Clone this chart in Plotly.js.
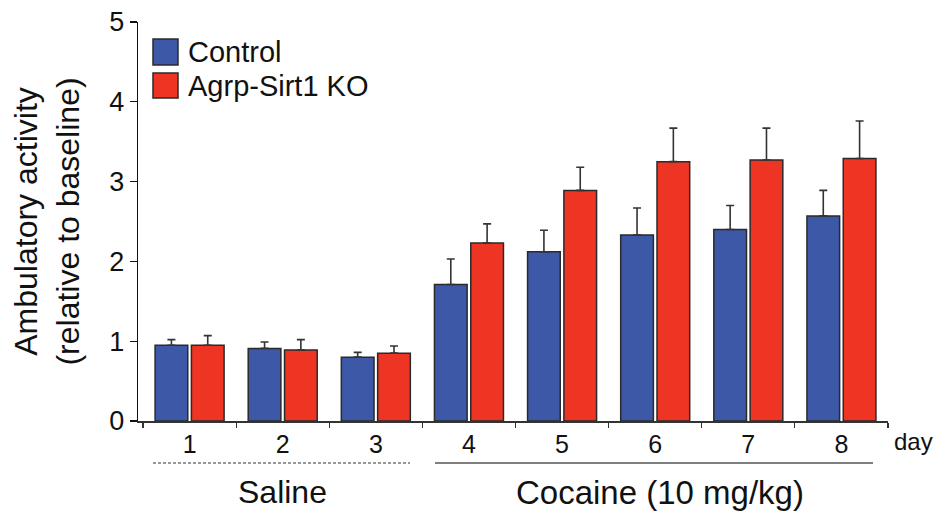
<!DOCTYPE html>
<html>
<head>
<meta charset="utf-8">
<script src="https://cdn.plot.ly/plotly-3.0.1.min.js"></script>
<style>html,body{margin:0;padding:0;background:#fff}#chart{width:943px;height:512px}</style>
</head>
<body>
<div id="chart"></div>
<script>
const days = ["1", "2", "3", "4", "5", "6", "7", "8"];
const controlMean = [0.95, 0.91, 0.80, 1.71, 2.12, 2.33, 2.40, 2.57];
const controlErr  = [0.07, 0.08, 0.06, 0.32, 0.27, 0.34, 0.30, 0.32];
const koMean = [0.95, 0.89, 0.85, 2.23, 2.89, 3.25, 3.27, 3.29];
const koErr  = [0.12, 0.13, 0.09, 0.24, 0.29, 0.42, 0.40, 0.47];
const seriesNames = ["Control", "Agrp-Sirt1 KO"];
const seriesColors = ["#3D58A7", "#EE3524"];
const yTicks = [0, 1, 2, 3, 4, 5];

const FONT = "Liberation Sans, Arial, Helvetica, sans-serif";
const errStyle = {type: "data", symmetric: false, arrayminus: days.map(() => 0), color: "#333", thickness: 1.6, width: 4};

const traces = [
  {type: "bar", x: days, y: controlMean, name: seriesNames[0],
   marker: {color: seriesColors[0], line: {color: "#2a2a2a", width: 1.5}},
   error_y: Object.assign({array: controlErr}, errStyle), showlegend: false},
  {type: "bar", x: days, y: koMean, name: seriesNames[1],
   marker: {color: seriesColors[1], line: {color: "#2a2a2a", width: 1.5}},
   error_y: Object.assign({array: koErr}, errStyle), showlegend: false}
];

const W = 750, H = 399, L = 138, B0 = 421;
const px = x => (x - L) / W;
const py = y => (B0 - y) / H;

const shapes = [
  // legend swatches
  {type: "rect", xref: "paper", yref: "paper", x0: px(153), x1: px(178), y0: py(65), y1: py(39),
   fillcolor: seriesColors[0], line: {color: "#2a2a2a", width: 1.5}},
  {type: "rect", xref: "paper", yref: "paper", x0: px(153), x1: px(178), y0: py(98), y1: py(73),
   fillcolor: seriesColors[1], line: {color: "#2a2a2a", width: 1.5}},
  // group underlines
  {type: "line", xref: "paper", yref: "paper", x0: px(153), x1: px(410), y0: py(463), y1: py(463),
   line: {color: "#333", width: 1.2, dash: "3px,2px"}},
  {type: "line", xref: "paper", yref: "paper", x0: px(435), x1: px(873), y0: py(463), y1: py(463),
   line: {color: "#555", width: 1.5}}
];

const annotations = [
  {xref: "paper", yref: "paper", x: px(186), y: py(52), xanchor: "left", yanchor: "middle",
   text: seriesNames[0], showarrow: false, font: {family: FONT, size: 29, color: "#111"}},
  {xref: "paper", yref: "paper", x: px(186), y: py(86), xanchor: "left", yanchor: "middle",
   text: seriesNames[1], showarrow: false, font: {family: FONT, size: 29, color: "#111"}},
  {xref: "paper", yref: "paper", x: px(892), y: py(441), xanchor: "left", yanchor: "middle",
   text: "day", showarrow: false, font: {family: FONT, size: 24, color: "#111"}},
  {xref: "paper", yref: "paper", x: px(282), y: py(492), xanchor: "center", yanchor: "middle",
   text: "Saline", showarrow: false, font: {family: FONT, size: 32, color: "#111"}},
  {xref: "paper", yref: "paper", x: px(660), y: py(492), xanchor: "center", yanchor: "middle",
   text: "Cocaine (10 mg/kg)", showarrow: false, font: {family: FONT, size: 33, color: "#111"}}
];

const layout = {
  width: 943, height: 512,
  margin: {l: 138, r: 55, t: 22, b: 91},
  paper_bgcolor: "#fff", plot_bgcolor: "#fff",
  font: {family: FONT, color: "#111"},
  barmode: "group", bargap: 0.22, bargroupgap: 0.1,
  xaxis: {
    type: "category", range: [-0.554, 7.5], tickson: "boundaries",
    ticks: "outside", ticklen: 5, tickcolor: "#333", tickwidth: 1.2,
    showline: true, linecolor: "#333", linewidth: 1.5,
    showgrid: false, zeroline: false,
    tickfont: {family: FONT, size: 25, color: "#111"}
  },
  yaxis: {
    range: [0, 5], tickvals: yTicks, ticktext: yTicks.map(String),
    ticks: "outside", ticklen: 7, tickcolor: "#111", tickwidth: 1.3,
    showline: true, linecolor: "#111", linewidth: 1.3,
    showgrid: false, zeroline: false,
    tickfont: {family: FONT, size: 27, color: "#111"},
    title: {text: "Ambulatory activity<br>(relative to baseline)", standoff: 20,
            font: {family: FONT, size: 32, color: "#111"}}
  },
  shapes: shapes,
  annotations: annotations,
  showlegend: false
};

Plotly.newPlot("chart", traces, layout, {displayModeBar: false, staticPlot: true});
</script>
</body>
</html>
